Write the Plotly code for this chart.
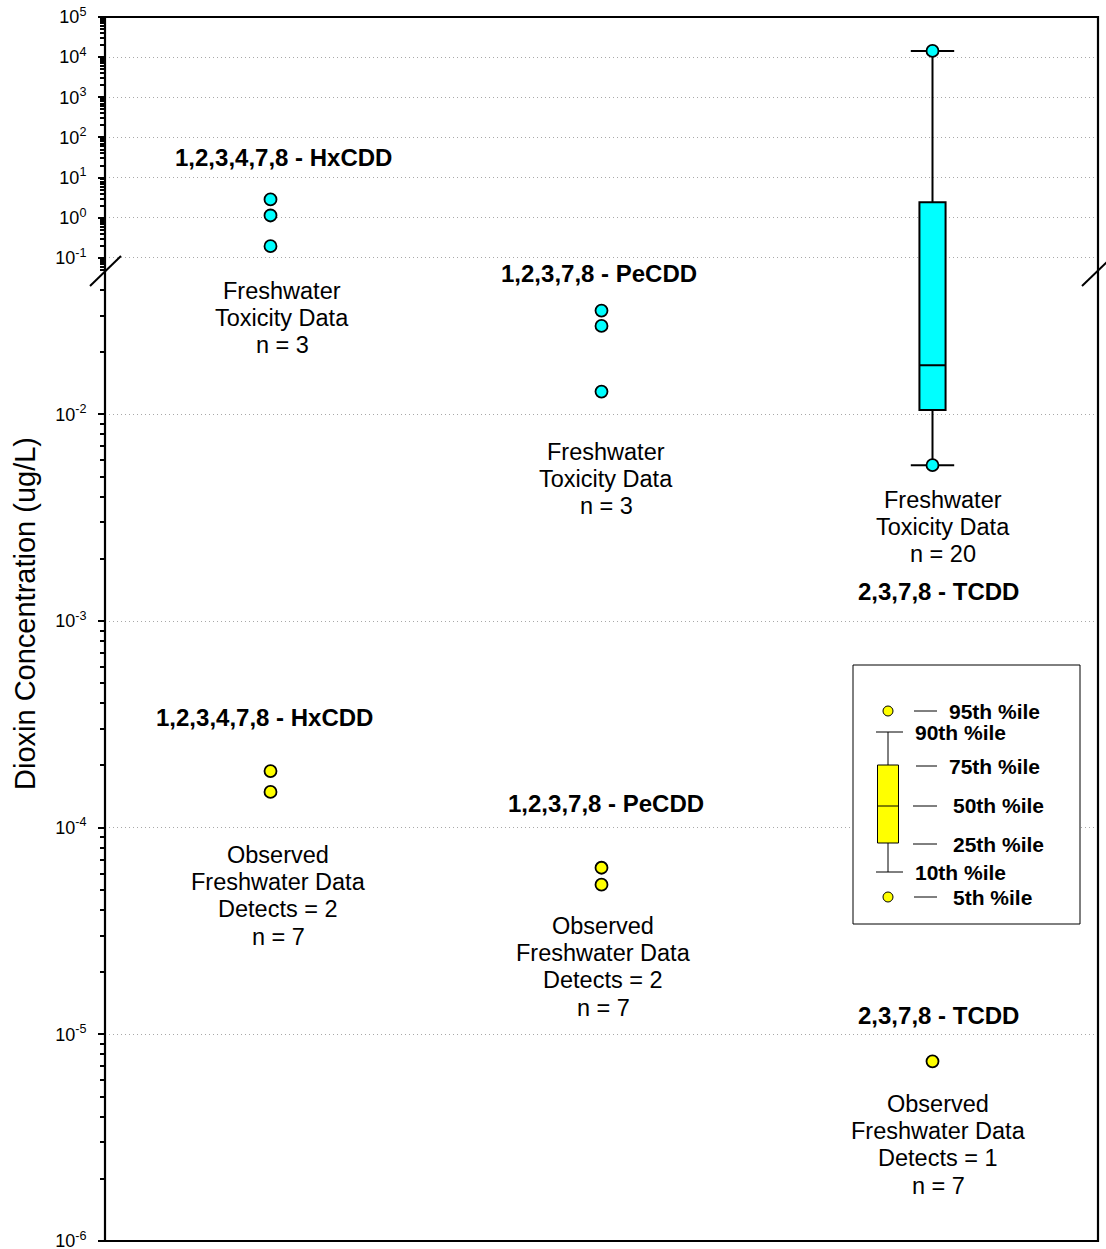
import math
import plotly.graph_objects as go

# Congeners placed along the x axis
congeners = ["1,2,3,4,7,8 - HxCDD", "1,2,3,7,8 - PeCDD", "2,3,7,8 - TCDD"]

# Freshwater toxicity data (ug/L)
hxcdd_tox = [2.86, 1.14, 0.196]
pecdd_tox = [0.0318, 0.0268, 0.0129]

# 2,3,7,8-TCDD toxicity distribution (n = 20), percentiles in ug/L
tcdd_tox_p5 = 0.00568
tcdd_tox_p10 = 0.00568
tcdd_tox_p25 = 0.0105
tcdd_tox_p50 = 0.0173
tcdd_tox_p75 = 2.45
tcdd_tox_p90 = 14300
tcdd_tox_p95 = 14300

# Observed freshwater detects (ug/L)
hxcdd_obs = [1.88e-4, 1.49e-4]
pecdd_obs = [6.4e-5, 5.3e-5]
tcdd_obs = [7.4e-6]

# Broken log axis: lower segment 1e-6 .. 0.05, compressed upper segment 0.05 .. 1e5
axis_break = 0.05
lower_decades = [-6, -5, -4, -3, -2]
upper_decades = [-1, 0, 1, 2, 3, 4, 5]

CYAN = "#00FFFF"
YELLOW = "#FFFF00"
FONT = "Liberation Sans, Arial, sans-serif"

W, H = 1106, 1249
M_L, M_R, M_T, M_B = 105, 8, 17, 8
PLOT_W = W - M_L - M_R
PLOT_H = H - M_T - M_B
LOWER_PX = 971          # height of the lower segment in pixels
OVERLAP_PX = 2          # lower segment reaches slightly under the upper one
brk = math.log10(axis_break)
lower_lo = -6.0002
px_per_decade = LOWER_PX / (brk - lower_lo)
split = LOWER_PX / PLOT_H


def fx(px):
    return (px - M_L) / PLOT_W


def fy(py):
    return (H - M_B - py) / PLOT_H


def split_series(name, values, **marker):
    """Put each value on the lower or upper y segment."""
    traces = []
    lo = [v for v in values if v <= axis_break]
    hi = [v for v in values if v > axis_break]
    for vals, ax in ((lo, "y"), (hi, "y2")):
        if vals:
            traces.append(go.Scatter(
                x=[name] * len(vals), y=vals, mode="markers", yaxis=ax,
                marker=dict(symbol="circle", **marker), showlegend=False,
                hoverinfo="x+y"))
    return traces


fig = go.Figure()

# TCDD toxicity box, drawn on both segments so it continues across the break
for ax in ("y", "y2"):
    fig.add_trace(go.Box(
        x=[congeners[2]], q1=[tcdd_tox_p25], median=[tcdd_tox_p50],
        q3=[tcdd_tox_p75], lowerfence=[tcdd_tox_p10], upperfence=[tcdd_tox_p90],
        width=0.079, whiskerwidth=0, fillcolor=CYAN, boxpoints=False,
        line=dict(color="black", width=2), yaxis=ax, showlegend=False))

# whisker caps
for tr in split_series(congeners[2], [tcdd_tox_p10, tcdd_tox_p90],
                       size=31, color="black", line=dict(width=2, color="black")):
    tr.marker.symbol = "line-ew"
    fig.add_trace(tr)

tox_marker = dict(size=12, color=CYAN, line=dict(width=1.8, color="black"))
obs_marker = dict(size=12, color=YELLOW, line=dict(width=1.8, color="black"))

for name, vals in ((congeners[0], hxcdd_tox), (congeners[1], pecdd_tox),
                   (congeners[2], [tcdd_tox_p5, tcdd_tox_p95])):
    for tr in split_series(name, vals, **tox_marker):
        fig.add_trace(tr)

for name, vals in ((congeners[0], hxcdd_obs), (congeners[1], pecdd_obs),
                   (congeners[2], tcdd_obs)):
    for tr in split_series(name, vals, **obs_marker):
        fig.add_trace(tr)


def minor_vals(e0, e1):
    return [m * 10.0 ** e for e in range(e0, e1) for m in range(2, 10)]


axis_common = dict(
    type="log", anchor="x", showline=False, zeroline=False, automargin=False,
    ticks="outside", ticklen=6, tickwidth=2, tickcolor="black",
    ticklabelstandoff=8, ticklabeloverflow="allow",
    tickfont=dict(family=FONT, size=18, color="black"),
    showgrid=True, gridcolor="#a8a8a8", gridwidth=1, griddash="1px,3px",
)

fig.update_layout(
    width=W, height=H,
    margin=dict(l=M_L, r=M_R, t=M_T, b=M_B, autoexpand=False),
    paper_bgcolor="white", plot_bgcolor="white",
    showlegend=False,
    font=dict(family=FONT, color="black"),
    xaxis=dict(type="category", categoryorder="array", categoryarray=congeners,
               range=[-0.5, 2.5], showticklabels=False, ticks="", automargin=False,
               showgrid=False, zeroline=False, showline=False, anchor="y"),
    yaxis=dict(domain=[0, (LOWER_PX + OVERLAP_PX) / PLOT_H],
               range=[lower_lo, brk + OVERLAP_PX / px_per_decade],
               tickvals=[10.0 ** e for e in lower_decades],
               ticktext=[f"10<sup>{e}</sup>" for e in lower_decades],
               minor=dict(tickvals=minor_vals(-6, -1), ticks="outside",
                          ticklen=4, tickwidth=1.5, tickcolor="black",
                          showgrid=False),
               **axis_common),
    yaxis2=dict(domain=[split, 1], range=[brk, 5.0002],
                tickvals=[10.0 ** e for e in upper_decades],
                ticktext=[f"10<sup>{e}</sup>" for e in upper_decades],
                minor=dict(tickvals=minor_vals(-2, 5), ticks="outside",
                           ticklen=4, tickwidth=1.5, tickcolor="black",
                           showgrid=False),
                **axis_common),
)

shapes = []
# plot frame
shapes.append(dict(type="rect", xref="paper", yref="paper", x0=0, x1=1, y0=0, y1=1,
                   line=dict(color="black", width=2.2), layer="above"))
# axis break marks
for x0 in (90, 1082):
    shapes.append(dict(type="line", xref="paper", yref="paper",
                       x0=fx(x0), y0=fy(286), x1=fx(x0 + 31), y1=fy(256),
                       line=dict(color="black", width=2), layer="above"))

# percentile key
shapes.append(dict(type="rect", xref="paper", yref="paper",
                   x0=fx(853), x1=fx(1080), y0=fy(924), y1=fy(665),
                   line=dict(color="black", width=1), fillcolor="white", layer="above"))
key_cx = 888
shapes.append(dict(type="line", xref="paper", yref="paper", x0=fx(key_cx), x1=fx(key_cx),
                   y0=fy(732), y1=fy(872), line=dict(color="black", width=1), layer="above"))
for yy in (732, 872):
    shapes.append(dict(type="line", xref="paper", yref="paper", x0=fx(876), x1=fx(903),
                       y0=fy(yy), y1=fy(yy), line=dict(color="black", width=1), layer="above"))
shapes.append(dict(type="rect", xref="paper", yref="paper", x0=fx(877.5), x1=fx(898.5),
                   y0=fy(843), y1=fy(765), fillcolor=YELLOW,
                   line=dict(color="black", width=1), layer="above"))
shapes.append(dict(type="line", xref="paper", yref="paper", x0=fx(877.5), x1=fx(898.5),
                   y0=fy(806), y1=fy(806), line=dict(color="black", width=1), layer="above"))
for yy in (711, 897):
    shapes.append(dict(type="circle", xref="paper", yref="paper",
                       x0=fx(key_cx - 5), x1=fx(key_cx + 5), y0=fy(yy + 5), y1=fy(yy - 5),
                       fillcolor=YELLOW, line=dict(color="black", width=1), layer="above"))
for yy, xa in ((711, 914), (766, 916), (806, 913), (844, 913), (897, 914)):
    shapes.append(dict(type="line", xref="paper", yref="paper", x0=fx(xa), x1=fx(937),
                       y0=fy(yy), y1=fy(yy), line=dict(color="black", width=1), layer="above"))
fig.update_layout(shapes=shapes)

annotations = []


def label(text, x, y, size, bold=False, xanchor="center"):
    annotations.append(dict(
        text=f"<b>{text}</b>" if bold else text, xref="paper", yref="paper",
        x=fx(x), y=fy(y), xanchor=xanchor, yanchor="middle", showarrow=False,
        font=dict(family=FONT, size=size, color="black")))


def block(lines, x, y0, pitch=27.2, size=23.5):
    for i, t in enumerate(lines):
        label(t, x, y0 + i * pitch, size)


HEAD = 24
label(congeners[0], 283, 157, HEAD, bold=True)
block(["Freshwater", "Toxicity Data", "n = 3"], 282, 291)
label(congeners[1], 599, 273, HEAD, bold=True)
block(["Freshwater", "Toxicity Data", "n = 3"], 606, 452)
block(["Freshwater", "Toxicity Data", "n = 20"], 943, 500)
label(congeners[2], 938, 591, HEAD, bold=True)

label(congeners[0], 264, 717, HEAD, bold=True)
block(["Observed", "Freshwater Data", "Detects = 2", "n = 7"], 278, 855)
label(congeners[1], 606, 804, HEAD, bold=True)
block(["Observed", "Freshwater Data", "Detects = 2", "n = 7"], 603, 926)
label(congeners[2], 938, 1015, HEAD, bold=True)
block(["Observed", "Freshwater Data", "Detects = 1", "n = 7"], 938, 1104)

# percentile key labels
KEY = 21
for text, x, y in (("95th %ile", 947, 711), ("90th %ile", 913, 733),
                   ("75th %ile", 947, 766), ("50th %ile", 951, 806),
                   ("25th %ile", 951, 844), ("10th %ile", 913, 872),
                   ("5th %ile", 951, 897)):
    label(text, x, y, KEY, bold=True, xanchor="left")

# y axis title
annotations.append(dict(
    text="Dioxin Concentration (ug/L)", xref="paper", yref="paper",
    x=fx(25), y=fy(614), xanchor="center", yanchor="middle", textangle=-90,
    showarrow=False, font=dict(family=FONT, size=29, color="black")))

fig.update_layout(annotations=annotations)

fig.write_html("out.html")
